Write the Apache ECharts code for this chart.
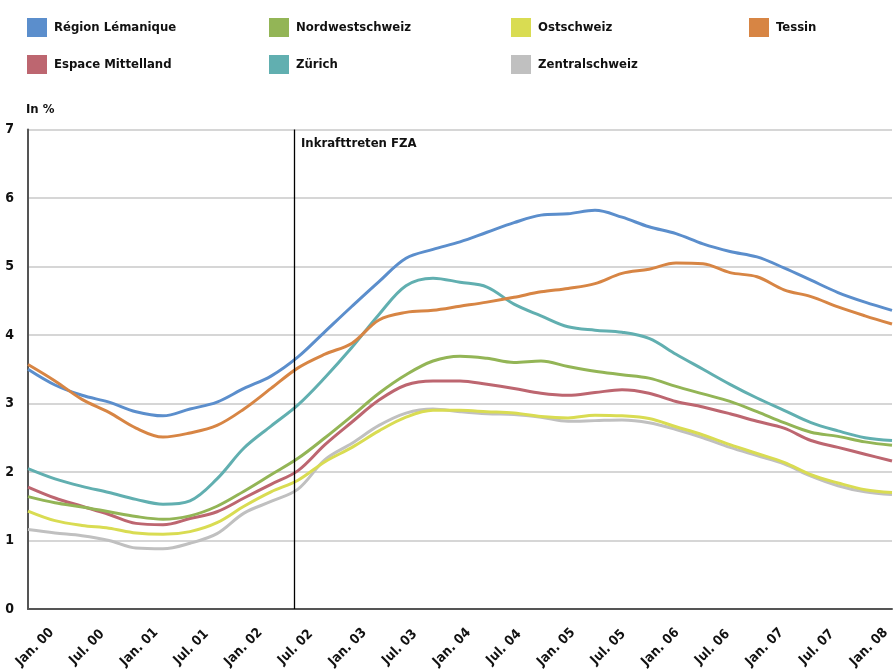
<!DOCTYPE html>
<html>
<head>
<meta charset="utf-8">
<script src="https://cdn.jsdelivr.net/npm/echarts@6/dist/echarts.min.js"></script>
<style>
html,body{margin:0;padding:0;background:#fff;}
#chart{width:893px;height:671px;}
</style>
</head>
<body>
<div id="chart"></div>
<script>
// Months since Jan. 2000 (quarterly readings)
const months = [0,3,6,9,12,15,18,21,24,27,30,33,36,39,42,45,48,51,54,57,60,63,66,69,72,75,78,81,84,87,90,93,96];
const tickLabels = ['Jan. 00','Jul. 00','Jan. 01','Jul. 01','Jan. 02','Jul. 02','Jan. 03','Jul. 03','Jan. 04','Jul. 04','Jan. 05','Jul. 05','Jan. 06','Jul. 06','Jan. 07','Jul. 07','Jan. 08'];

const regionLemanique = [3.50,3.27,3.12,3.02,2.88,2.82,2.92,3.02,3.22,3.40,3.68,4.05,4.42,4.78,5.12,5.25,5.36,5.50,5.64,5.75,5.77,5.82,5.72,5.58,5.48,5.33,5.22,5.14,4.98,4.80,4.62,4.48,4.36];
const tessin          = [3.57,3.33,3.06,2.87,2.64,2.51,2.57,2.68,2.92,3.22,3.52,3.72,3.88,4.22,4.33,4.36,4.42,4.48,4.55,4.63,4.68,4.75,4.90,4.96,5.05,5.04,4.91,4.85,4.66,4.56,4.41,4.28,4.16];
const zuerich         = [2.05,1.90,1.79,1.70,1.60,1.53,1.58,1.90,2.35,2.67,2.98,3.38,3.82,4.30,4.72,4.83,4.77,4.70,4.45,4.28,4.12,4.07,4.04,3.95,3.72,3.50,3.28,3.08,2.90,2.72,2.60,2.50,2.46];
const nordwestschweiz = [1.64,1.55,1.49,1.42,1.35,1.31,1.36,1.50,1.72,1.96,2.20,2.50,2.82,3.15,3.42,3.62,3.69,3.66,3.60,3.62,3.54,3.47,3.42,3.37,3.25,3.14,3.03,2.88,2.72,2.58,2.52,2.44,2.39];
const espaceMittelland= [1.78,1.62,1.50,1.38,1.25,1.23,1.32,1.42,1.62,1.82,2.02,2.40,2.73,3.05,3.27,3.33,3.33,3.28,3.22,3.15,3.12,3.16,3.20,3.15,3.03,2.95,2.85,2.74,2.64,2.46,2.36,2.26,2.16];
const ostschweiz      = [1.43,1.29,1.22,1.18,1.11,1.09,1.13,1.26,1.50,1.71,1.88,2.15,2.36,2.60,2.80,2.90,2.90,2.88,2.86,2.81,2.79,2.83,2.82,2.78,2.66,2.54,2.40,2.27,2.14,1.96,1.84,1.74,1.70];
const zentralschweiz  = [1.16,1.11,1.07,1.00,0.89,0.88,0.96,1.10,1.40,1.57,1.75,2.18,2.42,2.68,2.86,2.92,2.88,2.85,2.84,2.80,2.74,2.75,2.76,2.72,2.62,2.50,2.36,2.24,2.12,1.94,1.80,1.71,1.67];

const fzaMonth = 29.6; // Inkrafttreten FZA (June 2002)

const FONT = "'Liberation Sans Narrow','DejaVu Sans Condensed','Roboto Condensed',sans-serif";

const seriesDefs = [
  {name:'Région Lémanique', data:regionLemanique, color:'#5b8ecc'},
  {name:'Espace Mittelland', data:espaceMittelland, color:'#bd6670'},
  {name:'Nordwestschweiz', data:nordwestschweiz, color:'#93b556'},
  {name:'Zürich', data:zuerich, color:'#61afb0'},
  {name:'Zentralschweiz', data:zentralschweiz, color:'#c0c0c0'},
  {name:'Ostschweiz', data:ostschweiz, color:'#d9dc52'},
  {name:'Tessin', data:tessin, color:'#d78544'}
];

const series = seriesDefs.map((s, idx) => {
  const o = {
    name: s.name,
    type: 'line',
    xAxisIndex: 0,
    yAxisIndex: 0,
    smooth: 0.35,
    symbol: 'none',
    data: months.map((m, i) => [m, s.data[i]]),
    lineStyle: {color: s.color, width: 3},
    itemStyle: {color: s.color},
    emphasis: {disabled: true},
    animation: false
  };
  if (idx === 0) {
    o.markLine = {
      silent: true,
      symbol: ['none','none'],
      animation: false,
      label: {show: false},
      lineStyle: {color: '#000', width: 1.3, type: 'solid'},
      data: [{xAxis: fzaMonth}]
    };
  }
  return o;
});

const legendTxt = {fontFamily: FONT, fontWeight: 'bold', fontSize: 13, color: '#111', padding: [0,0,0,2]};
function mkLegend(names, left) {
  return {
    data: names, orient: 'vertical', left: left, top: 18, padding: 0,
    itemWidth: 20, itemHeight: 19, itemGap: 18, icon: 'rect',
    selectedMode: false, textStyle: legendTxt
  };
}

const chart = echarts.init(document.getElementById('chart'), null, {renderer: 'canvas'});
chart.setOption({
  backgroundColor: '#fff',
  animation: false,
  legend: [
    mkLegend(['Région Lémanique','Espace Mittelland'], 27),
    mkLegend(['Nordwestschweiz','Zürich'], 269),
    mkLegend(['Ostschweiz','Zentralschweiz'], 511),
    mkLegend(['Tessin'], 749)
  ],
  title: [
    {text: 'In %', left: 26, top: 103, padding: 0,
     textStyle: {fontFamily: FONT, fontWeight: 'bold', fontSize: 13, color: '#111'}},
    {text: 'Inkrafttreten FZA', left: 301, top: 137, padding: 0,
     textStyle: {fontFamily: FONT, fontWeight: 'bold', fontSize: 13, color: '#111'}}
  ],
  grid: [
    {left: 28, right: 1, top: 129.5, bottom: 62, containLabel: false},
    {left: 35, right: 24, top: 129.5, bottom: 62, containLabel: false}
  ],
  xAxis: [
    {type: 'value', gridIndex: 0, min: 0, max: 96, interval: 6,
     axisLine: {show: true, onZero: false, lineStyle: {color: '#555', width: 2}},
     axisTick: {show: false}, axisLabel: {show: false}, splitLine: {show: false}},
    {type: 'category', gridIndex: 1, data: tickLabels, boundaryGap: false,
     axisLine: {show: false}, axisTick: {show: false}, splitLine: {show: false},
     axisLabel: {interval: 0, rotate: 45, align: 'center', verticalAlign: 'middle', margin: 40,
                 fontFamily: FONT, fontWeight: 'bold', fontSize: 13.5, color: '#111'}}
  ],
  yAxis: [
    {type: 'value', gridIndex: 0, min: 0, max: 7, interval: 1,
     axisLine: {show: true, lineStyle: {color: '#555', width: 2}},
     axisTick: {show: false},
     axisLabel: {margin: 14, fontFamily: FONT, fontWeight: 'bold', fontSize: 14, color: '#111'},
     splitLine: {show: true, lineStyle: {color: '#c8c8c8', width: 1.5}}},
    {type: 'value', gridIndex: 1, min: 0, max: 1, show: false}
  ],
  series: series
});
</script>
</body>
</html>
